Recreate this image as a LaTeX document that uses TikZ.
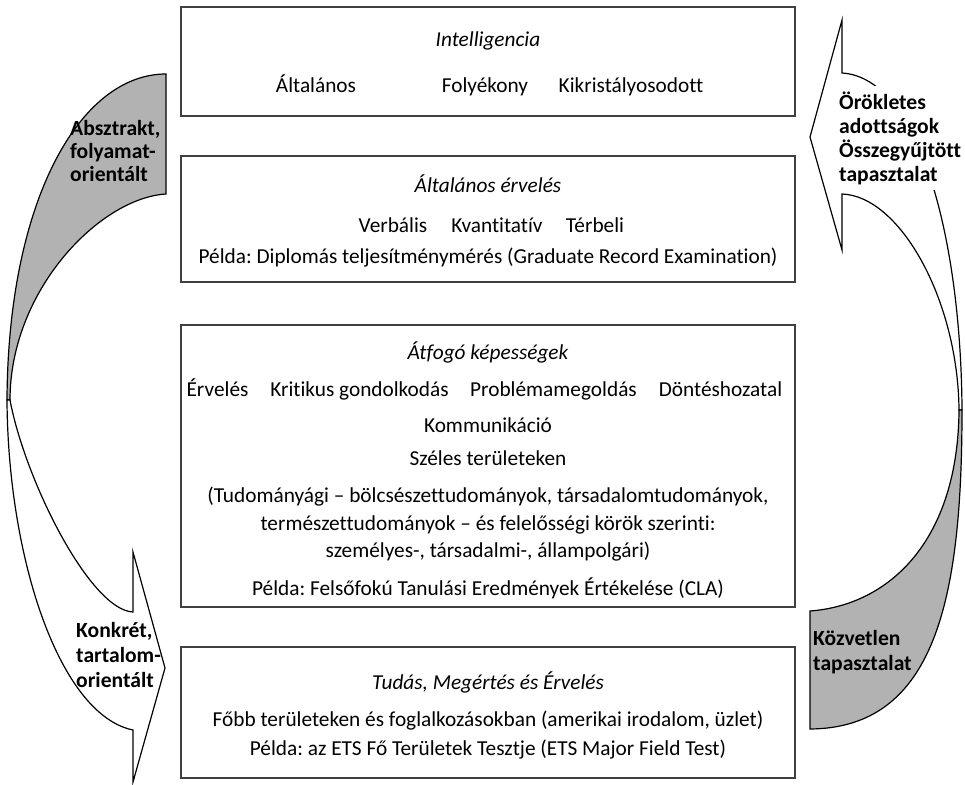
\documentclass[tikz,border=0pt]{standalone}
\usepackage{fontspec}
\setmainfont{Carlito}[Ligatures=NoCommon]
\begin{document}
\frenchspacing
\begin{tikzpicture}[x=1pt,y=-1pt,
  box/.style={draw=black!75, line width=1.5pt, minimum width=614pt, inner sep=0pt},
  tx/.style={anchor=base, inner sep=0pt, font=\fontsize{21.3}{25}\selectfont},
  it/.style={anchor=base, inner sep=0pt, font=\fontsize{21.3}{25}\selectfont\itshape},
  lb/.style={anchor=base west, inner sep=0pt, font=\fontsize{21.6}{24}\selectfont\bfseries},
  arr/.style={draw=black, line width=1.2pt, line join=miter},
  greyshape/.style={arr, fill=black!30},
  whiteshape/.style={arr, fill=white}
]
\useasboundingbox (0,0) rectangle (965,784);

% left curved arrow: grey upper part
\draw[greyshape] (166,74) -- (166,194) .. controls (100,198) and (10,290) .. (10,400)
  -- (7,400) .. controls (8,200) and (80,74) .. (166,74) -- cycle;
% left curved arrow: white lower part with head
\draw[whiteshape] (7,400) -- (10,400) .. controls (25,480) and (90,610) .. (133,612)
  -- (133,552) -- (165,668) -- (133,782) -- (133,730)
  .. controls (60,715) and (8,560) .. (7,400) -- cycle;

% right curved arrow: white upper part with head
\draw[whiteshape] (842,20) -- (842,73) .. controls (920,78) and (961,240) .. (962,410)
  -- (959,410) .. controls (958,300) and (900,196) .. (842,194)
  -- (842,250) -- (810,137) -- cycle;
% right curved arrow: grey lower part
\draw[greyshape] (962,410) .. controls (962,600) and (935,728) .. (810,729)
  -- (810,611) .. controls (890,605) and (958,540) .. (959,410) -- cycle;

% white backing of the upper right label
\fill[white] (837,86) rectangle (965,190);

% boxes
\node[box, minimum height=109pt] (box1) at (488,61.5) {};
\node[box, minimum height=126pt] (box2) at (488,219) {};
\node[box, minimum height=282pt] (box3) at (488,466) {};
\node[box, minimum height=131pt] (box4) at (488,712.5) {};

% box 1
\node[it] (t1) at (488,47) {Intelligencia};
\node[tx] (t1a) at (316,92) {Általános};
\node[tx] (t1b) at (485,92) {Folyékony};
\node[tx] (t1c) at (631,92) {Kikristályosodott};

% box 2
\node[it] (t2) at (488,192) {Általános érvelés};
\node[tx] (t2a) at (393,232) {Verbális};
\node[tx] (t2b) at (497,232) {Kvantitatív};
\node[tx] (t2c) at (595,232) {Térbeli};
\node[tx] (t2d) at (488,263) {Példa: Diplomás teljesítménymérés (Graduate Record Examination)};

% box 3
\node[it] (t3) at (488,359) {Átfogó képességek};
\node[tx] (t3a) at (217.5,396) {Érvelés};
\node[tx] (t3b) at (359.5,396) {Kritikus gondolkodás};
\node[tx] (t3c) at (553.5,396) {Problémamegoldás};
\node[tx] (t3d) at (720.5,396) {Döntéshozatal};
\node[tx] (t3e) at (488,432) {Kommunikáció};
\node[tx] (t3f) at (488,465) {Széles területeken};
\node[tx] (t3g) at (488,502) {(Tudományági – bölcsészettudományok, társadalomtudományok,};
\node[tx] (t3h) at (488,530) {természettudományok – és felelősségi körök szerinti:};
\node[tx] (t3i) at (488,557) {személyes-, társadalmi-, állampolgári)};
\node[tx] (t3j) at (488,595) {Példa: Felsőfokú Tanulási Eredmények Értékelése (CLA)};

% box 4
\node[it] (t4) at (488,689) {Tudás, Megértés és Érvelés};
\node[tx] (t4a) at (488,726) {Főbb területeken és foglalkozásokban (amerikai irodalom, üzlet)};
\node[tx] (t4b) at (488,755) {Példa: az ETS Fő Területek Tesztje (ETS Major Field Test)};

% arrow labels
\node[lb] (la1) at (70,135) {Absztrakt,};
\node[lb] (la2) at (70,158) {folyamat-};
\node[lb] (la3) at (70,181) {orientált};
\node[lb] (lb1) at (76,637) {Konkrét,};
\node[lb] (lb2) at (76,662) {tartalom-};
\node[lb] (lb3) at (76,687) {orientált};
\node[lb] (lc1) at (839,109) {Örökletes};
\node[lb] (lc2) at (839,133) {adottságok};
\node[lb] (lc3) at (839,157) {Összegyűjtött};
\node[lb] (lc4) at (839,181) {tapasztalat};
\node[lb] (ld1) at (813,645) {Közvetlen};
\node[lb] (ld2) at (813,670) {tapasztalat};
\end{tikzpicture}
\end{document}
